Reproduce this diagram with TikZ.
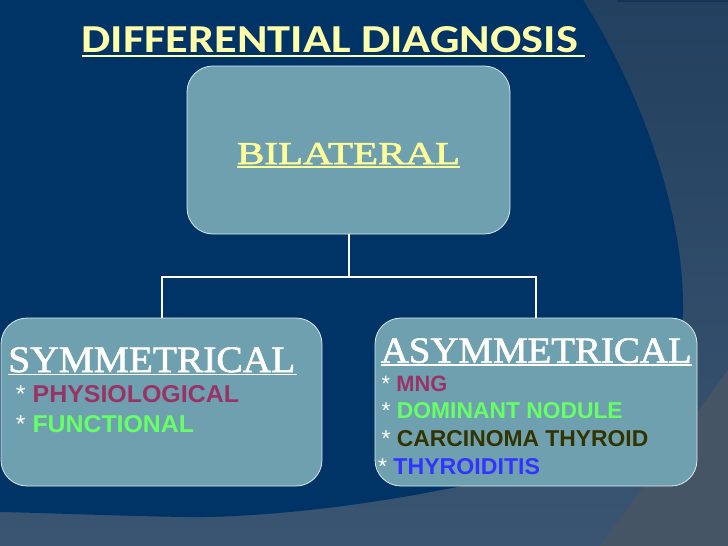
\documentclass[tikz,border=0pt]{standalone}
\usepackage{fontspec}
\usepackage{graphicx}
\usetikzlibrary{calc}
\newfontfamily\titlef{Carlito}
\newfontfamily\serf{Liberation Serif}[FakeBold=1.6]
\newfontfamily\sanf{Liberation Sans}
\newcommand\fitto[3]{\resizebox{#1pt}{#2pt}{#3}}
\newcommand\bulletast{{\mdseries\textcolor{white}{*}}}
\definecolor{navy}{HTML}{003366}
\definecolor{slateA}{HTML}{22405F}
\definecolor{slateB}{HTML}{3A5571}
\definecolor{grayreg}{HTML}{465565}
\definecolor{boxfill}{HTML}{6FA0AF}
\definecolor{boxline}{HTML}{DCE9F0}
\definecolor{titley}{HTML}{FFFFAA}
\definecolor{bily}{HTML}{FFFF99}
\definecolor{plum}{HTML}{993366}
\definecolor{lgreen}{HTML}{66FF66}
\definecolor{olive}{HTML}{333300}
\definecolor{tblue}{HTML}{3333FF}
\definecolor{topstrip}{HTML}{18335A}
\begin{document}
\begin{tikzpicture}[x=1pt,y=-1pt,
  panel/.style={draw=boxline,line width=0.8pt,fill=boxfill,rounded corners=26pt,
     inner sep=0pt,minimum width=#1pt,minimum height=168pt},
  txt/.style={inner sep=0pt,outer sep=0pt,anchor=base west},
  conn/.style={draw=white,line width=2pt},
  uline/.style={line width=#1pt}]
\useasboundingbox (0,0) rectangle (728,546);
% background
\shade[top color=slateA,bottom color=slateB] (0,0) rectangle (728,546);
\fill[grayreg] (728,370) .. controls (685,429) and (643,487) .. (600,546) -- (728,546) -- cycle;
\fill[navy] (0,0) -- (583,0) .. controls (640,90) and (684,210) .. (683,310)
  .. controls (682,400) and (560,470) .. (441,490)
  .. controls (350,508) and (250,518) .. (186,517)
  .. controls (120,516) and (50,513) .. (0,512) -- cycle;
\fill[topstrip] (617,0) rectangle (728,1.5);
% title
\node[txt] (title) at (81.7,52.3) {\fitto{496.3}{26}{\titlef\bfseries\color{titley}DIFFERENTIAL DIAGNOSIS}};
\draw[uline=2.4,titley] ($(title.base west)+(0,3.8)$) -- ($(title.base east)+(7,3.8)$);
% boxes
\node[panel=323] (bil) at (348.5,150) {};
\node[panel=321] (sym) at (161.5,402) {};
\node[panel=322] (asym) at (536,402) {};
% connectors
\draw[conn] (bil.south) -- ++(0,43) coordinate (j);
\draw[conn] (j) -| (sym.north);
\draw[conn] (j) -| (asym.north);
% BILATERAL
\node[txt] (bilt) at (237,164) {\fitto{223}{21}{\serf\color{bily}BILATERAL}};
\draw[uline=2,bily] ($(bilt.base west)+(0,3.2)$) -- ($(bilt.base east)+(0,3.2)$);
% SYMMETRICAL
\node[txt] (symt) at (8.3,372) {\fitto{287}{24.7}{\serf\color{white}SYMMETRICAL}};
\draw[uline=1.6,white] ($(symt.base west)+(0,2.6)$) -- ($(symt.base east)+(2,2.6)$);
\node[txt] (s1) at (16,402.7) {\fitto{223}{17}{\sanf\bfseries\bulletast\ \textcolor{plum}{PHYSIOLOGICAL}}};
\node[txt] (s2) at (16,432.7) {\fitto{178}{17}{\sanf\bfseries\bulletast\ \textcolor{lgreen}{FUNCTIONAL}}};
% ASYMMETRICAL
\node[txt] (asymt) at (380.7,362.7) {\fitto{311}{24.4}{\serf\color{white}ASYMMETRICAL}};
\draw[uline=1.6,white] ($(asymt.base west)+(0,2.4)$) -- ($(asymt.base east)+(0.5,2.4)$);
\node[txt] (a1) at (381.7,391) {\fitto{65.6}{15.5}{\sanf\bfseries\bulletast\ \textcolor{plum}{MNG}}};
\node[txt] (a2) at (381.7,418.7) {\fitto{241}{16}{\sanf\bfseries\bulletast\ \textcolor{lgreen}{DOMINANT NODULE}}};
\node[txt] (a3) at (381.7,446.7) {\fitto{266.6}{16}{\sanf\bfseries\bulletast\ \textcolor{olive}{CARCINOMA THYROID}}};
\node[txt] (a4) at (378,474.3) {\fitto{162}{16}{\sanf\bfseries\bulletast\ \textcolor{tblue}{THYROIDITIS}}};
\end{tikzpicture}
\end{document}
